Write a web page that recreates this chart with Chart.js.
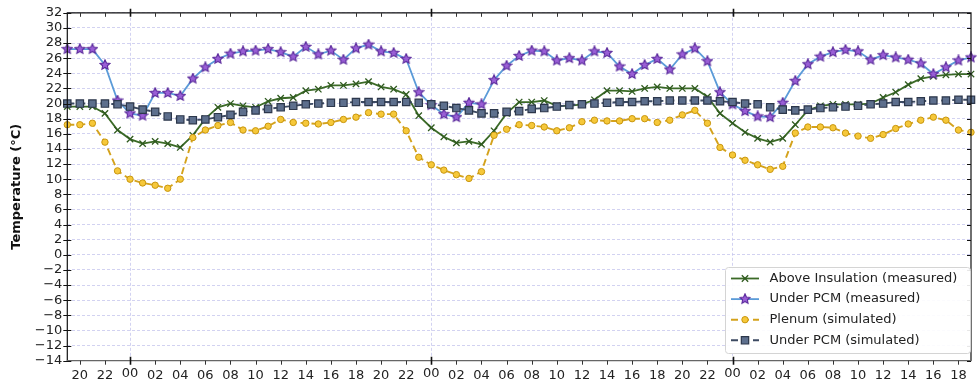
<!DOCTYPE html>
<html>
<head>
<meta charset="utf-8">
<script src="https://cdn.jsdelivr.net/npm/chart.js@4.4.0/dist/chart.umd.min.js"></script>
<style>
  html, body { margin: 0; padding: 0; background: #ffffff; }
  #wrap { width: 978px; height: 380px; position: relative; }
</style>
</head>
<body>
<div id="wrap"><canvas id="chart" width="978" height="380"></canvas></div>
<script>
// Hourly readings, starting 19:00 on the first evening
const hours = [
  '19','20','21','22','23',
  '00','01','02','03','04','05','06','07','08','09','10','11','12','13','14','15','16','17','18','19','20','21','22','23',
  '00','01','02','03','04','05','06','07','08','09','10','11','12','13','14','15','16','17','18','19','20','21','22','23',
  '00','01','02','03','04','05','06','07','08','09','10','11','12','13','14','15','16','17','18','19'
];

const aboveInsulationMeasured = [
  19.6, 19.6, 19.6, 18.7, 16.5, 15.3, 14.7, 15.0, 14.7, 14.2,
  15.8, 18.0, 19.5, 20.0, 19.7, 19.5, 20.3, 20.7, 20.8, 21.7,
  21.9, 22.4, 22.4, 22.6, 22.9, 22.2, 21.9, 21.2, 18.4, 16.8,
  15.6, 14.8, 15.0, 14.6, 16.4, 18.7, 20.2, 20.2, 20.4, 19.7,
  19.7, 19.9, 20.5, 21.7, 21.7, 21.6, 22.0, 22.2, 22.0, 22.0,
  22.0, 20.9, 18.7, 17.4, 16.2, 15.4, 14.9, 15.4, 17.2, 19.1,
  19.7, 19.9, 19.9, 19.9, 20.0, 20.8, 21.5, 22.5, 23.3, 23.6,
  23.8, 23.9, 23.9
];

const underPcmMeasured = [
  27.2, 27.2, 27.2, 25.1, 20.4, 18.7, 18.4, 21.4, 21.4, 21.0,
  23.3, 24.8, 25.9, 26.6, 26.9, 27.0, 27.2, 26.8, 26.2, 27.5,
  26.5, 27.0, 25.8, 27.3, 27.8, 26.9, 26.7, 25.9, 21.5, 19.8,
  18.6, 18.2, 20.1, 19.9, 23.1, 25.0, 26.3, 27.0, 26.9, 25.7,
  26.0, 25.7, 26.9, 26.7, 24.9, 23.9, 25.1, 25.9, 24.5, 26.5,
  27.3, 25.6, 21.5, 19.9, 19.0, 18.3, 18.2, 20.1, 23.0, 25.2,
  26.2, 26.8, 27.1, 26.9, 25.8, 26.4, 26.1, 25.8, 25.3, 23.9,
  24.8, 25.7, 26.1
];

const plenumSimulated = [
  17.2, 17.2, 17.4, 14.9, 11.1, 10.0, 9.5, 9.2, 8.8, 10.0,
  15.5, 16.5, 17.1, 17.5, 16.5, 16.4, 17.0, 17.9, 17.5, 17.4,
  17.3, 17.5, 17.9, 18.2, 18.8, 18.6, 18.6, 16.4, 12.9, 11.9,
  11.2, 10.6, 10.1, 11.0, 15.8, 16.6, 17.2, 17.1, 16.9, 16.4,
  16.8, 17.6, 17.8, 17.7, 17.7, 18.0, 18.0, 17.5, 17.8, 18.5,
  19.1, 17.4, 14.2, 13.2, 12.5, 11.9, 11.3, 11.7, 16.1, 16.9,
  16.9, 16.8, 16.1, 15.7, 15.4, 15.9, 16.7, 17.3, 17.8, 18.2,
  17.8, 16.5, 16.2
];

const underPcmSimulated = [
  20.0, 20.0, 20.0, 20.0, 19.9, 19.6, 19.2, 18.9, 18.3, 17.9,
  17.8, 17.9, 18.2, 18.5, 18.9, 19.1, 19.3, 19.5, 19.7, 19.9,
  20.0, 20.1, 20.1, 20.2, 20.2, 20.2, 20.2, 20.2, 20.1, 19.9,
  19.7, 19.4, 19.1, 18.7, 18.7, 18.9, 19.0, 19.3, 19.4, 19.6,
  19.8, 19.9, 20.0, 20.1, 20.2, 20.2, 20.3, 20.3, 20.4, 20.4,
  20.4, 20.4, 20.3, 20.2, 20.0, 19.9, 19.5, 19.2, 19.1, 19.2,
  19.4, 19.5, 19.6, 19.7, 19.9, 20.0, 20.2, 20.2, 20.3, 20.4,
  20.4, 20.5, 20.5
];

const seriesNames = [
  'Above Insulation (measured)',
  'Under PCM (measured)',
  'Plenum (simulated)',
  'Under PCM (simulated)'
];

const yMin = -14, yMax = 32, yStep = 2;
const FONT = '"DejaVu Sans", "Liberation Sans", sans-serif';

// five-pointed star marker
function starMarker(size, fill, stroke) {
  const c = document.createElement('canvas');
  c.width = size; c.height = size;
  const g = c.getContext('2d');
  const cx = size / 2, cy = size / 2, R = size / 2 - 0.8, r = R * 0.48;
  g.beginPath();
  for (let k = 0; k < 10; k++) {
    const a = -Math.PI / 2 + k * Math.PI / 5;
    const rr = (k % 2) ? r : R;
    g.lineTo(cx + rr * Math.cos(a), cy + rr * Math.sin(a));
  }
  g.closePath();
  g.fillStyle = fill; g.fill();
  g.lineWidth = 1.1; g.strokeStyle = stroke; g.stroke();
  return c;
}
const star = starMarker(12, '#9a5fd6', '#5b2a9c');

const isMidnight = i => hours[i] === '00';
const isEvenHour = i => parseInt(hours[i], 10) % 2 === 0;

// spines, inward/outward tick marks and the legend box
const frame = {
  id: 'frame',
  afterDatasetsDraw(chart) {
    const { ctx, chartArea: a, scales: { x, y } } = chart;
    ctx.save();
    ctx.lineCap = 'butt';
    // spines
    ctx.lineWidth = 1.2;
    ctx.strokeStyle = '#111';
    ctx.beginPath();
    ctx.moveTo(a.left, a.bottom); ctx.lineTo(a.left, a.top);
    ctx.lineTo(a.right, a.top); ctx.lineTo(a.right, a.bottom);
    ctx.stroke();
    ctx.strokeStyle = '#666';
    ctx.beginPath(); ctx.moveTo(a.left - 0.6, a.bottom); ctx.lineTo(a.right + 0.6, a.bottom); ctx.stroke();

    // x ticks, every two hours; midnight ticks cross the spine
    for (let i = 0; i < hours.length; i++) {
      if (!isEvenHour(i)) continue;
      const px = Math.round(x.getPixelForValue(i)) + 0.5;
      const major = isMidnight(i);
      ctx.lineWidth = major ? 1.6 : 1;
      ctx.strokeStyle = major ? '#111' : '#333';
      ctx.beginPath();
      ctx.moveTo(px, a.bottom - (major ? 4 : 0)); ctx.lineTo(px, a.bottom + 4);
      ctx.moveTo(px, a.top - (major ? 4 : 0)); ctx.lineTo(px, a.top + 4);
      ctx.stroke();
    }
    // y ticks
    ctx.lineWidth = 1.1;
    ctx.strokeStyle = '#111';
    ctx.beginPath();
    y.ticks.forEach(t => {
      const py = Math.round(y.getPixelForValue(t.value)) + 0.5;
      ctx.moveTo(a.left - 4, py); ctx.lineTo(a.left + 4, py);
      ctx.moveTo(a.right - 4, py); ctx.lineTo(a.right, py);
    });
    ctx.stroke();
    ctx.restore();
  },
  afterDraw(chart) {
    const { ctx } = chart;
    const bx = 725.5, by = 267.5, bw = 245, bh = 86;
    ctx.save();
    ctx.beginPath();
    ctx.roundRect(bx, by, bw, bh, 3);
    ctx.fillStyle = 'rgba(255,255,255,0.9)';
    ctx.fill();
    ctx.lineWidth = 1;
    ctx.strokeStyle = '#d4d4d4';
    ctx.stroke();

    chart.data.datasets.forEach((ds, k) => {
      const cy = 278.5 + k * 20.6;
      ctx.save();
      ctx.lineWidth = ds.borderWidth;
      ctx.strokeStyle = ds.borderColor;
      ctx.setLineDash(ds.borderDash || []);
      ctx.beginPath(); ctx.moveTo(731, cy); ctx.lineTo(759, cy); ctx.stroke();
      ctx.restore();
      ctx.save();
      ctx.fillStyle = ds.pointBackgroundColor;
      ctx.strokeStyle = ds.pointBorderColor;
      ctx.lineWidth = ds.pointBorderWidth;
      Chart.helpers.drawPoint(ctx, {
        pointStyle: ds.pointStyle, radius: ds.pointRadius, rotation: 0,
        borderWidth: ds.pointBorderWidth
      }, 745, cy);
      ctx.restore();
      ctx.fillStyle = '#222';
      ctx.font = '13px ' + FONT;
      ctx.textBaseline = 'middle';
      ctx.textAlign = 'left';
      ctx.fillText(ds.label, 769.5, cy);
    });
    ctx.restore();
  }
};

new Chart(document.getElementById('chart'), {
  type: 'line',
  data: {
    labels: hours,
    datasets: [
      {
        label: seriesNames[0], data: aboveInsulationMeasured, order: 4,
        borderColor: '#3b6a27', borderWidth: 1.8,
        pointStyle: 'crossRot', pointRadius: 4.5, pointBorderWidth: 1.3,
        pointBackgroundColor: '#3b6a27', pointBorderColor: '#2f5a1f'
      },
      {
        label: seriesNames[1], data: underPcmMeasured, order: 3,
        borderColor: '#5b9bd8', borderWidth: 1.8,
        pointStyle: star, pointRadius: 6, pointBorderWidth: 1,
        pointBackgroundColor: '#9a5fd6', pointBorderColor: '#5b2a9c'
      },
      {
        label: seriesNames[2], data: plenumSimulated, order: 2,
        borderColor: '#d4a21c', borderWidth: 1.9, borderDash: [7, 4],
        pointStyle: 'circle', pointRadius: 3.2, pointBorderWidth: 1,
        pointBackgroundColor: '#f6c83a', pointBorderColor: '#c8960f'
      },
      {
        label: seriesNames[3], data: underPcmSimulated, order: 1,
        borderColor: '#3c4a62', borderWidth: 1.9, borderDash: [7, 4],
        pointStyle: 'rect', pointRadius: 5.2, pointBorderWidth: 1.2,
        pointBackgroundColor: '#5d6f8d', pointBorderColor: '#2c374b'
      }
    ]
  },
  options: {
    responsive: false,
    animation: false,
    devicePixelRatio: 1,
    layout: { autoPadding: false, padding: { top: 12.3, right: 1.3, left: 0, bottom: 0 } },
    elements: { line: { tension: 0 } },
    datasets: { line: { clip: false } },
    plugins: { legend: { display: false }, tooltip: { enabled: false } },
    scales: {
      x: {
        type: 'category',
        afterFit: s => { s.height = 19.3; },
        grid: {
          drawTicks: false,
          lineWidth: 0.8,
          color: c => (c.index !== undefined && isMidnight(c.index)) ? '#c6c6ee' : 'rgba(0,0,0,0)'
        },
        border: { display: false, dash: [3, 2] },
        ticks: {
          autoSkip: false, maxRotation: 0, minRotation: 0,
          padding: 7,
          color: '#222',
          font: c => ({ family: FONT, size: 13, lineHeight: isMidnight(c.index) ? 0.86 : 1.25 }),
          callback: (v, i) => isEvenHour(i) ? hours[i] : ''
        }
      },
      y: {
        min: yMin, max: yMax,
        afterFit: s => { s.width = 67.3; },
        grid: { drawTicks: false, lineWidth: 0.8, color: '#c6c6ee' },
        border: { display: false, dash: [3, 2] },
        ticks: {
          stepSize: yStep,
          autoSkip: false,
          padding: 5,
          color: '#222',
          font: { family: FONT, size: 13 },
          callback: v => String(v).replace('-', '\u2212')
        },
        title: {
          display: true,
          text: 'Temperature (°C)',
          color: '#111',
          font: { family: FONT, size: 13, weight: 'bold' },
          padding: { top: 9, bottom: 0 }
        }
      }
    }
  },
  plugins: [frame]
});
</script>
</body>
</html>
